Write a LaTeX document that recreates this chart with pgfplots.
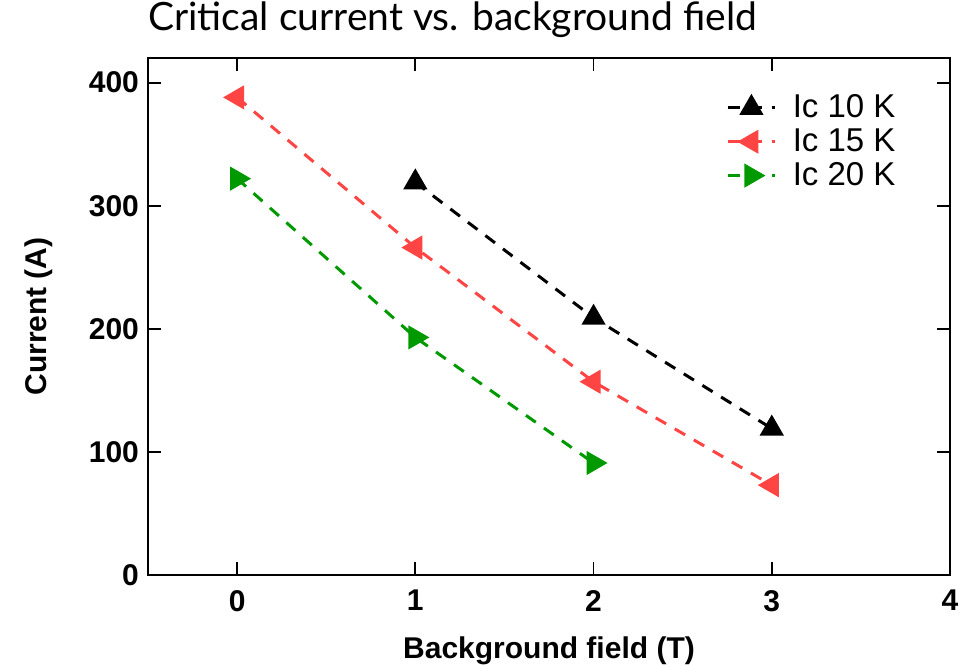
\documentclass[border=0pt]{standalone}
\usepackage{fontspec}
\setmainfont{Liberation Sans}
\newfontfamily\titlefont{Lato}
\usepackage{pgfplots}
\pgfplotsset{compat=1.18}

\definecolor{cblack}{RGB}{0,0,0}
\definecolor{cred}{RGB}{255,68,68}
\definecolor{cgreen}{RGB}{0,153,0}

\begin{document}
\begin{tikzpicture}
\begin{axis}[
    scale only axis,
    width=401pt, height=258.5pt,
    xmin=-0.5, xmax=4, ymin=0, ymax=420,
    xtick={0,1,2,3,4}, ytick={0,100,200,300,400},
    tick align=inside, major tick length=6.5pt,
    axis line style={line width=0.9pt},
    tick style={line width=0.9pt, black},
    /pgf/number format/assume math mode=true,
    tick label style={font=\bfseries\fontsize{15}{18}\selectfont},
    xticklabel style={yshift=-4pt},
    yticklabel style={xshift=-1pt},
    xlabel={Background field (T)},
    ylabel={Current (A)},
    label style={font=\bfseries\fontsize{15}{18}\selectfont},
    xlabel style={yshift=-6pt},
    ylabel style={yshift=11pt},
    legend style={draw=none, fill=none, at={(0.945,0.945)}, anchor=north east,
        font=\fontsize{16.5}{19}\selectfont, row sep=0pt},
    legend cell align=left,
    legend image code/.code={
        \draw[mark repeat=2, mark phase=2] plot coordinates {(0cm,0cm) (0.42cm,0cm) (0.84cm,0cm)};
        \path (1.05cm,0cm);
    },
    every axis plot/.append style={line width=1.5pt, dash pattern=on 6pt off 5pt, mark size=5.5pt},
    clip=false,
]
\addplot[color=cblack, mark=triangle*, mark options={solid, fill=cblack}]
    coordinates {(1,319) (2,209) (3,119)};
\addlegendentry{Ic 10 K}
\addplot[color=cred, mark=triangle*, mark options={solid, fill=cred, rotate=90}]
    coordinates {(0,388) (1,266) (2,157) (3,73)};
\addlegendentry{Ic 15 K}
\addplot[color=cgreen, mark=triangle*, mark options={solid, fill=cgreen, rotate=-90}]
    coordinates {(0,322) (1,193) (2,91)};
\addlegendentry{Ic 20 K}
\coordinate (ll) at (rel axis cs:0,0);
\coordinate (ur) at (rel axis cs:1,1);
\node[anchor=base west, inner sep=0pt, font=\titlefont\fontsize{19.5}{22}\selectfont]
    at ([yshift=13.5pt]rel axis cs:0,1) {Critical current vs. background field};
\end{axis}
\pgfresetboundingbox
\path (ll) ++(-74pt,-45pt) rectangle ([shift={(8pt,29pt)}]ur);
\end{tikzpicture}
\end{document}
